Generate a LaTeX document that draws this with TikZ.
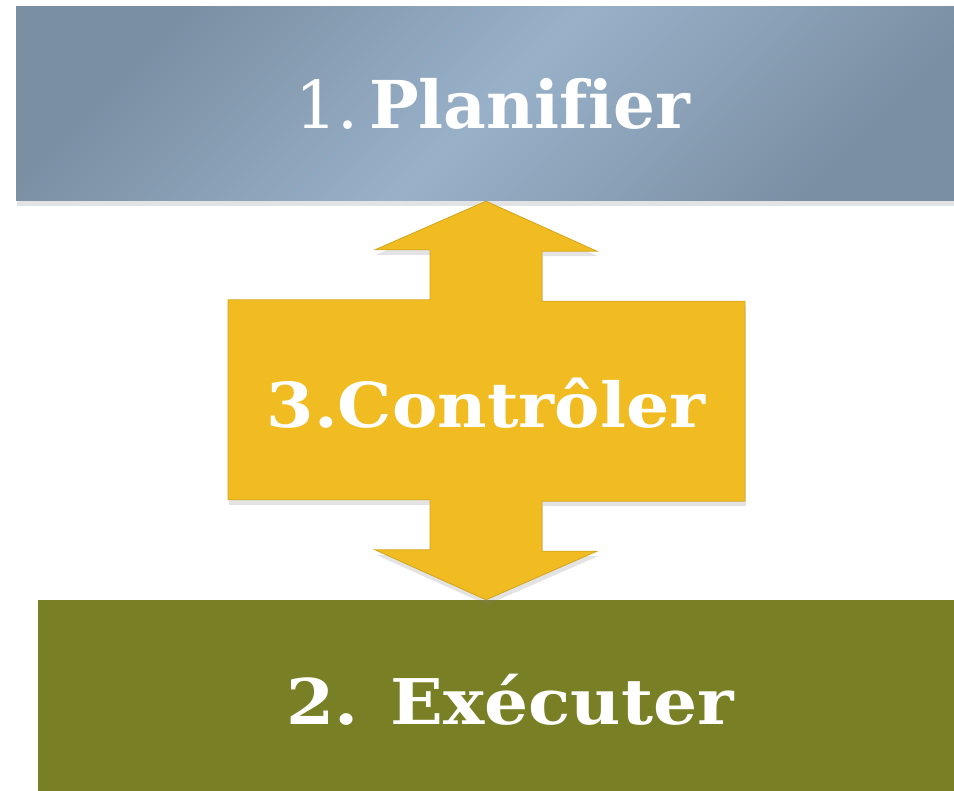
\documentclass[tikz,border=0pt]{standalone}
\usepackage{fontspec}
\setmainfont{DejaVu Serif}[Ligatures=CommonOff]
\usepackage{tikz}
\usetikzlibrary{positioning, shadows}
\definecolor{plandark}{HTML}{7B8FA3}
\definecolor{planlight}{HTML}{98B1C9}
\definecolor{ctrlyellow}{HTML}{F0BC21}
\definecolor{execgreen}{HTML}{787F24}
\newcommand{\widebf}{\bfseries\addfontfeature{FakeStretch=1.1}}
\tikzset{x=1pt, y=-1pt,
stage/.style={rectangle, inner sep=0pt, text=white},
soft shadow/.style={drop shadow={opacity=0.22, shadow xshift=1pt, shadow yshift=-5pt}},
planbox/.style={stage, minimum width=954pt, minimum height=194pt,
  top color=plandark, bottom color=plandark, middle color=planlight,
  shading angle=45, soft shadow, font=\fontsize{66}{72}\selectfont},
execbox/.style={stage, minimum width=944pt, minimum height=202pt,
  fill=execgreen, soft shadow, font=\fontsize{63}{70}\selectfont\widebf},
ctrlfill/.style={fill=ctrlyellow, draw=ctrlyellow!88!black, line width=0.8pt, soft shadow},
ctrltext/.style={text=white, inner sep=0pt, font=\fontsize{62}{70}\selectfont\widebf}
}

\begin{document}
\begin{tikzpicture}
\clip (0,0) rectangle (954,791);
\node[planbox] (plan) at (493,104) {1.\,\textbf{Planifier}};
\node[execbox] (exec) at (510,701) {\raisebox{3pt}{2. Exécuter}};
% double arrow between the two stages
\coordinate (axis) at (486,400);
\coordinate (uptip) at (axis |- plan.south);
\coordinate (downtip) at (axis |- exec.north);
\path[ctrlfill] (uptip) -- ++(111,50) -- ++(-55,0) -- ++(0,50) -- ++(203,0)
  -- ++(0,200) -- ++(-203,0) -- ++(0,50) -- ++(55,0) -- (downtip)
  -- ++(-111,-50) -- ++(55,0) -- ++(0,-50) -- ++(-202,0) -- ++(0,-200)
  -- ++(202,0) -- ++(0,-50) -- ++(-55,0) -- cycle;
\node[ctrltext] (ctrl) at (486,403) {3.Contrôler};
\end{tikzpicture}
\end{document}
